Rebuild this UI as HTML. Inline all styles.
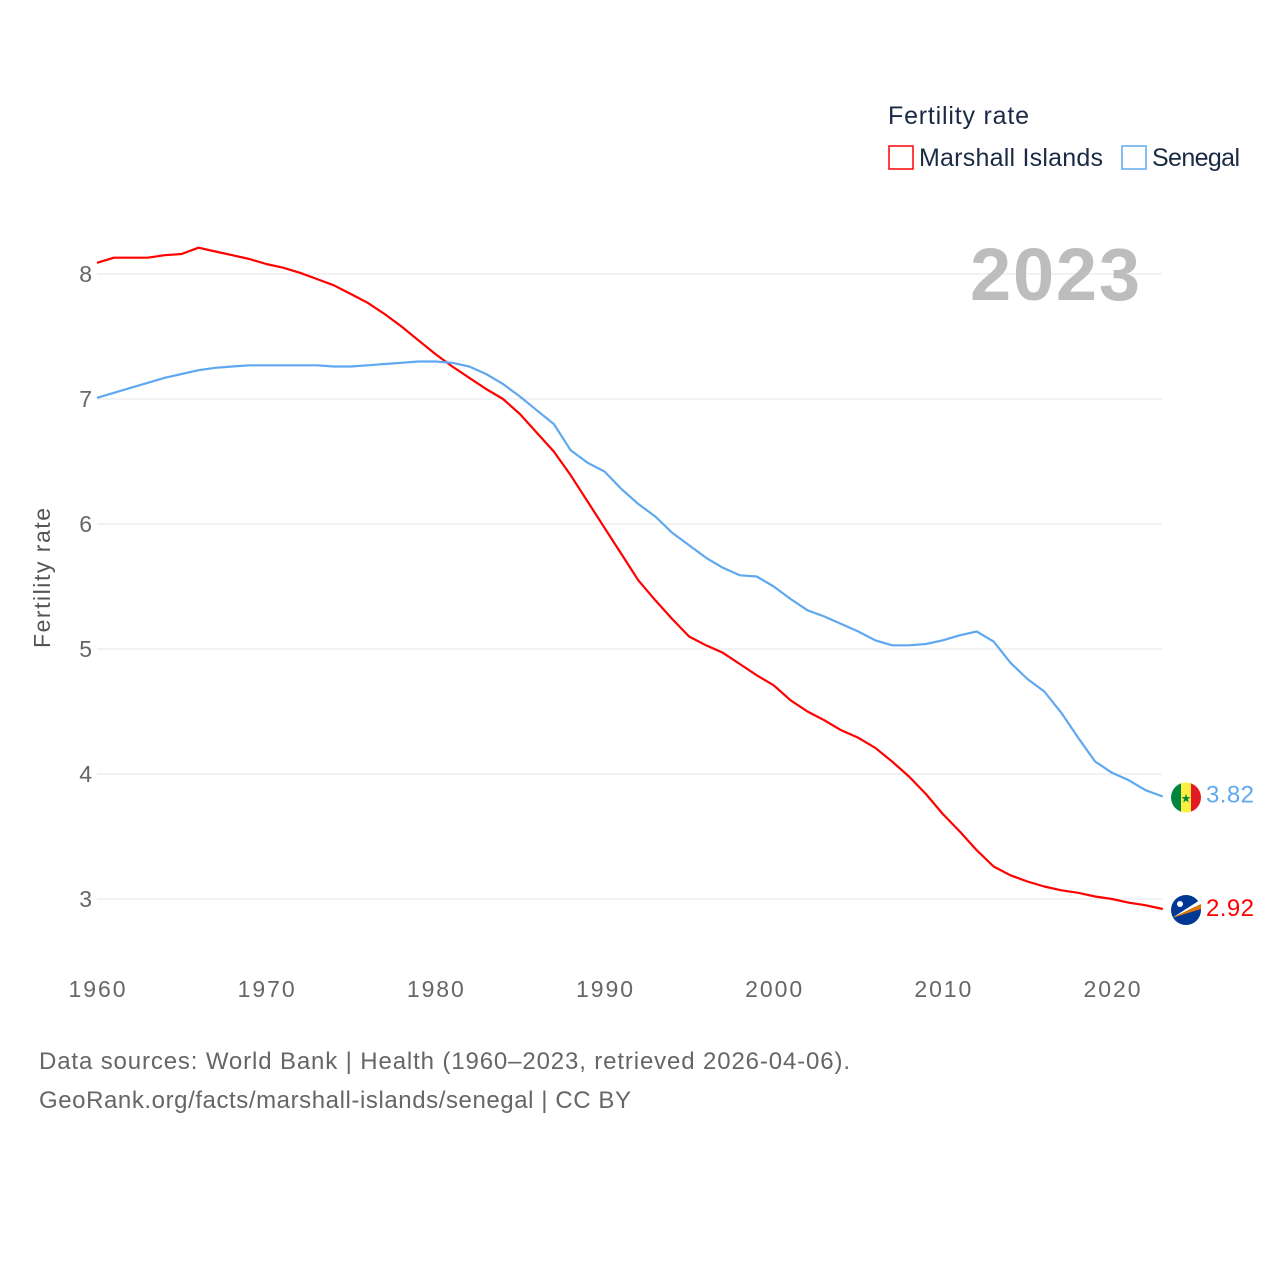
<!DOCTYPE html>
<html><head><meta charset="utf-8"><style>
body{margin:0;background:#fff;font-family:"Liberation Sans",sans-serif}
</style></head><body>
<svg id="chart" width="1280" height="1280" xmlns="http://www.w3.org/2000/svg">
<rect width="1280" height="1280" fill="#fff"/>
<g id="grid"></g>
<g id="lines"></g>
<text x="1140" y="300" text-anchor="end" font-size="74" font-weight="bold" fill="#bdbdbd" textLength="170">2023</text>
<text transform="translate(50,578) rotate(-90)" text-anchor="middle" font-size="23" fill="#555" textLength="140">Fertility rate</text>
<text x="888" y="124" font-size="25" fill="#1a2a44" textLength="141">Fertility rate</text>
<rect x="889" y="146" width="24" height="23" fill="none" stroke="#f00" stroke-width="1.5"/>
<text x="919" y="166" font-size="25" fill="#1a2a44" textLength="184">Marshall Islands</text>
<rect x="1122" y="146" width="24" height="23" fill="none" stroke="#5fa8f0" stroke-width="1.5"/>
<text x="1152" y="166" font-size="25" fill="#1a2a44" textLength="88">Senegal</text>
<text x="39" y="1069" font-size="24" fill="#666" textLength="811">Data sources: World Bank | Health (1960–2023, retrieved 2026-04-06).</text>
<text x="39" y="1108" font-size="24" fill="#666" textLength="592">GeoRank.org/facts/marshall-islands/senegal | CC BY</text>
</svg>
<script>
const years = Array.from({length:64},(_,i)=>1960+i);
const marshall = [8.09,8.13,8.13,8.13,8.15,8.16,8.21,8.18,8.15,8.12,8.08,8.05,8.01,7.96,7.91,7.84,7.77,7.68,7.58,7.47,7.36,7.26,7.17,7.08,7.00,6.88,6.73,6.58,6.39,6.18,5.97,5.76,5.55,5.39,5.24,5.10,5.03,4.97,4.88,4.79,4.71,4.59,4.50,4.43,4.35,4.29,4.21,4.10,3.98,3.84,3.68,3.54,3.39,3.26,3.19,3.14,3.10,3.07,3.05,3.02,3.00,2.97,2.95,2.92];
const senegal = [7.01,7.05,7.09,7.13,7.17,7.20,7.23,7.25,7.26,7.27,7.27,7.27,7.27,7.27,7.26,7.26,7.27,7.28,7.29,7.30,7.30,7.29,7.26,7.20,7.12,7.02,6.91,6.80,6.59,6.49,6.42,6.28,6.16,6.06,5.93,5.83,5.73,5.65,5.59,5.58,5.50,5.40,5.31,5.26,5.20,5.14,5.07,5.03,5.03,5.04,5.07,5.11,5.14,5.06,4.89,4.76,4.66,4.49,4.29,4.10,4.01,3.95,3.87,3.82];
const yTicks = [3,4,5,6,7,8];
const xTicks = [1960,1970,1980,1990,2000,2010,2020];
const NS='http://www.w3.org/2000/svg';
const xS = y => 97 + (y-1960)*(1015/60);
const yS = v => 274 + (8-v)*125;
const grid=document.getElementById('grid'), lines=document.getElementById('lines');
function mk(tag,attrs,parent){const e=document.createElementNS(NS,tag);for(const k in attrs)e.setAttribute(k,attrs[k]);parent.appendChild(e);return e;}
yTicks.forEach(t=>{
  const l=mk('line',{x1:97,x2:1162,y1:yS(t),y2:yS(t),stroke:'#e6e6e6','stroke-width':1},grid);
  
  
  const tx=mk('text',{x:92,y:yS(t)+8,'text-anchor':'end','font-size':23,fill:'#666'},grid);
  tx.textContent=t;
  
  
});
xTicks.forEach(t=>{
  const tx=mk('text',{x:xS(t),y:997,'text-anchor':'middle','font-size':23,fill:'#666',textLength:57},grid);
  tx.textContent=t;
  
  
});
function series(data,color,name){
  const d=data.map((v,i)=>(i?'L':'M')+xS(years[i]).toFixed(1)+','+yS(v).toFixed(1)).join('');
  const p=mk('path',{d:d,fill:'none',stroke:color,'stroke-width':2.2,'stroke-linejoin':'round'},lines);
  
  
}
series(marshall,'#f00','marshall-islands');
series(senegal,'#5fa8f0','senegal');
const sv=senegal[senegal.length-1], mv=marshall[marshall.length-1];
const sy=yS(sv)+1, my=yS(mv)+1;
const fs=mk('g',{},lines);


const cp=mk('clipPath',{id:'cs'},fs);
mk('circle',{cx:1186,cy:sy,r:15},cp);
const g1=mk('g',{'clip-path':'url(#cs)'},fs);
mk('rect',{x:1171,y:sy-15,width:10,height:30,fill:'#00853f'},g1);
mk('rect',{x:1181,y:sy-15,width:10,height:30,fill:'#fdef42'},g1);
mk('rect',{x:1191,y:sy-15,width:10,height:30,fill:'#e31b23'},g1);
mk('text',{x:1186,y:sy+5,'text-anchor':'middle','font-size':12,fill:'#00853f'},g1).textContent='★';
const st=mk('text',{x:1206,y:sy+5,'font-size':24,fill:'#5fa8f0',textLength:48},lines);
st.textContent=sv.toFixed(2);


const fm=mk('g',{},lines);


mk('circle',{cx:1186,cy:my,r:15,fill:'#003893'},fm);
mk('path',{d:`M1172,${my+8} L1200,${my-10} L1201,${my-6} Z`,fill:'#fff'},fm);
mk('path',{d:`M1172,${my+8} L1201,${my-6} L1201,${my-1} Z`,fill:'#dd7500'},fm);
mk('circle',{cx:1180,cy:my-6,r:3,fill:'#fff'},fm);
const mt=mk('text',{x:1206,y:my+6,'font-size':24,fill:'#f00',textLength:48},lines);
mt.textContent=mv.toFixed(2);


</script>
</body></html>
